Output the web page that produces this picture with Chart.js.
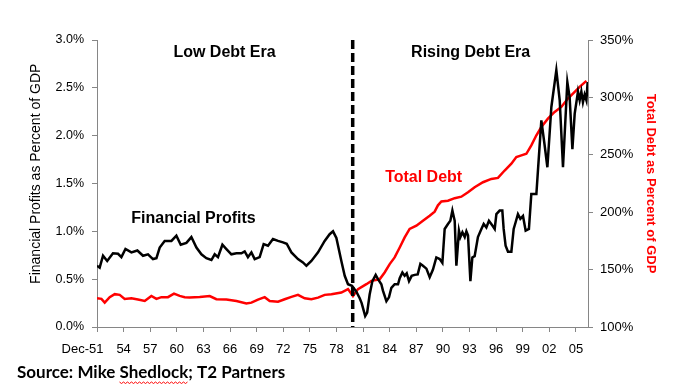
<!DOCTYPE html>
<html>
<head>
<meta charset="utf-8">
<script src="https://cdn.jsdelivr.net/npm/chart.js@4.4.0/dist/chart.umd.min.js"></script>
<style>
  html, body { margin: 0; padding: 0; background: #fff; }
  #wrap { position: relative; width: 676px; height: 391px; }
</style>
</head>
<body>
<div id="wrap"><canvas id="debtChart"></canvas></div>
<script>
// data //
const profitYears = [
  1951.92, 1952.22, 1952.60, 1953.07, 1953.72, 1954.29, 1954.67, 1955.13, 1955.80, 1956.47,
  1957.11, 1957.67, 1958.23, 1958.62, 1958.99, 1959.55, 1960.31, 1960.87, 1961.36, 1962.00,
  1962.56, 1963.13, 1963.69, 1964.25, 1964.82, 1965.19, 1965.56, 1966.06, 1966.51, 1967.07,
  1967.64, 1968.20, 1968.57, 1968.94, 1969.33, 1969.70, 1970.26, 1970.71, 1971.20, 1971.76,
  1972.33, 1972.89, 1973.31, 1973.84, 1974.58, 1975.14, 1975.53, 1976.09, 1976.84, 1977.59,
  1978.15, 1978.53, 1978.91, 1979.47, 1979.85, 1980.22, 1980.67, 1981.16, 1981.54, 1981.76,
  1982.16, 1982.38, 1982.66, 1982.97, 1983.34, 1983.60, 1983.98, 1984.16, 1984.55, 1984.84,
  1985.11, 1985.48, 1985.86, 1986.05, 1986.35, 1986.61, 1986.84, 1987.10, 1987.40, 1987.74,
  1988.08, 1988.38, 1988.67, 1989.06, 1989.43, 1989.80, 1990.18, 1990.56, 1990.86, 1991.12,
  1991.49, 1991.76, 1991.99, 1992.25, 1992.44, 1992.73, 1992.89, 1993.12, 1993.38, 1993.57,
  1993.75, 1994.02, 1994.24, 1994.50, 1994.87, 1995.26, 1995.52, 1995.82, 1996.11, 1996.50,
  1996.76, 1996.95, 1997.32, 1997.62, 1997.77, 1997.99, 1998.26, 1998.64, 1998.90, 1999.12,
  1999.38, 1999.65, 1999.95, 2000.25, 2000.62, 2000.89, 2001.46, 2001.64, 2002.02, 2002.39,
  2002.70, 2003.15, 2003.71, 2004.09, 2004.46, 2004.95, 2005.21, 2005.52, 2005.78, 2006.15,
  2006.34, 2006.53, 2006.71, 2006.90, 2007.10, 2007.24
];
const profitValues = [
  0.64, 0.62, 0.745, 0.69, 0.77, 0.765, 0.73, 0.815, 0.78, 0.80,
  0.745, 0.76, 0.71, 0.72, 0.83, 0.90, 0.90, 0.955, 0.86, 0.88,
  0.94, 0.83, 0.76, 0.72, 0.70, 0.76, 0.73, 0.86, 0.815, 0.76,
  0.77, 0.77, 0.79, 0.73, 0.78, 0.71, 0.73, 0.867, 0.85, 0.92,
  0.90, 0.885, 0.87, 0.78, 0.71, 0.675, 0.64, 0.69, 0.78, 0.90,
  0.97, 1.00, 0.93, 0.69, 0.535, 0.447, 0.43, 0.37, 0.30, 0.25,
  0.115, 0.15, 0.34, 0.48, 0.545, 0.50, 0.447, 0.38, 0.27, 0.31,
  0.41, 0.447, 0.447, 0.51, 0.57, 0.535, 0.56, 0.48, 0.535, 0.545,
  0.55, 0.66, 0.64, 0.61, 0.52, 0.60, 0.727, 0.71, 0.67, 1.025,
  1.077, 1.11, 1.217, 1.11, 0.64, 1.007, 0.94, 0.99, 0.94, 1.00,
  0.96, 0.48, 0.727, 0.74, 0.94, 1.025, 1.077, 1.04, 1.11, 1.06,
  1.025, 1.18, 1.217, 1.217, 1.025, 0.85, 0.787, 0.787, 1.025, 1.095,
  1.18, 1.13, 1.16, 1.007, 1.025, 1.39, 1.39, 1.64, 2.16, 1.90,
  1.67, 2.30, 2.685, 2.37, 1.67, 2.56, 2.40, 1.86, 2.23, 2.46,
  2.37, 2.46, 2.35, 2.43, 2.37, 2.56
];
const debtYears = [
  1951.92, 1952.42, 1952.79, 1953.35, 1953.92, 1954.48, 1955.04, 1955.80, 1956.54, 1957.30,
  1958.05, 1958.62, 1959.18, 1959.92, 1960.60, 1961.24, 1961.81, 1962.37, 1963.50, 1964.63,
  1965.38, 1966.51, 1967.64, 1968.76, 1969.33, 1970.07, 1970.83, 1971.39, 1972.33, 1973.08,
  1973.84, 1974.58, 1975.34, 1976.09, 1976.84, 1977.59, 1978.35, 1979.47, 1980.22, 1980.78,
  1981.35, 1982.29, 1982.86, 1983.79, 1984.35, 1984.92, 1985.48, 1986.05, 1986.61, 1987.17,
  1987.93, 1988.67, 1989.43, 1989.99, 1990.36, 1990.75, 1991.49, 1992.25, 1993.00, 1993.75,
  1994.50, 1995.44, 1996.38, 1997.13, 1997.88, 1998.64, 1999.20, 1999.77, 2000.33, 2000.89,
  2001.46, 2002.02, 2002.76, 2003.52, 2004.27, 2005.02, 2005.78, 2006.34, 2007.10
];
const debtValues = [
  125, 124.5, 121.2, 126, 128.6, 128, 124.5, 125, 123.9, 122.7,
  127.1, 124.5, 126, 126, 129.1, 127.1, 126, 125.6, 126.2, 127,
  124.2, 123.9, 122.7, 120.4, 121.2, 123.9, 126, 122.7, 122.1, 124.2,
  126.2, 128, 125, 124.2, 125.6, 128, 128.6, 130, 133, 127,
  133, 137.3, 140.2, 141.6, 147.5, 154.8, 160.6, 169.3, 178, 185.4,
  188.3, 192.6, 197, 200.5, 206, 209.3, 210, 212.2, 213.5, 217.4,
  221.8, 226.1, 229, 229.9, 236.3, 242.2, 248, 249.5, 250.9, 258.2,
  267, 274.2, 281.5, 287.3, 291.7, 299, 304.8, 309.2, 314.4
];
const tickYears = [
  1951.92, 1954.92, 1957.92, 1960.92, 1963.92, 1966.92, 1969.92, 1972.92, 1975.92, 1978.92,
  1981.92, 1984.92, 1987.92, 1990.92, 1993.92, 1996.92, 1999.92, 2002.92, 2005.92
];
const tickLabels = ['Dec-51', '54', '57', '60', '63', '66', '69', '72', '75', '78',
  '81', '84', '87', '90', '93', '96', '99', '02', '05'];
const eraSplit = 1980.75;

const AXIS_GRAY = '#868686';
const ARIAL = "'Liberation Sans', Arial, sans-serif";

// dashed divider, notes and source //
const notesPlugin = {
  id: 'notes',
  afterDatasetsDraw(chart) {
    const { ctx, chartArea, scales } = chart;
    const x = scales.x, yL = scales.y, yR = scales.y1;

    ctx.save();
    const xs = x.getPixelForValue(eraSplit);
    ctx.strokeStyle = '#000';
    ctx.lineWidth = 3.5;
    ctx.setLineDash([9, 4]);
    ctx.beginPath();
    ctx.moveTo(xs, chartArea.top);
    ctx.lineTo(xs, chartArea.bottom);
    ctx.stroke();
    ctx.setLineDash([]);

    ctx.textAlign = 'center';
    ctx.textBaseline = 'middle';
    ctx.font = 'bold 16px ' + ARIAL;
    ctx.fillStyle = '#000';
    ctx.fillText('Low Debt Era', x.getPixelForValue(1966.3), yL.getPixelForValue(2.87));
    ctx.fillText('Rising Debt Era', x.getPixelForValue(1994.05), yL.getPixelForValue(2.87));
    ctx.fillText('Financial Profits', x.getPixelForValue(1962.8), yL.getPixelForValue(1.13));
    ctx.fillStyle = '#ff0000';
    ctx.fillText('Total Debt', x.getPixelForValue(1988.75), yR.getPixelForValue(230.5));

    // source line
    const src1 = 'Source: Mike ', src2 = 'Shedlock', src3 = '; T2 Partners';
    ctx.font = "bold 17px Lato, 'Open Sans', sans-serif";
    ctx.fillStyle = '#000';
    ctx.textAlign = 'left';
    const sx = 17, sy = 373;
    ctx.fillText(src1 + src2 + src3, sx, sy);
    const w1 = ctx.measureText(src1).width;
    const w2 = ctx.measureText(src2).width;
    // spell-check squiggle
    ctx.strokeStyle = '#ff0000';
    ctx.lineWidth = 1;
    ctx.beginPath();
    for (let px = 0; px <= w2; px += 2) {
      const py = sy + 9 + ((px / 2) % 2 === 0 ? 0 : 1.5);
      if (px === 0) ctx.moveTo(sx + w1 + px, py); else ctx.lineTo(sx + w1 + px, py);
    }
    ctx.stroke();
    ctx.restore();
  }
};

const ctx = document.getElementById('debtChart');
new Chart(ctx, {
  type: 'line',
  data: {
    datasets: [{
      label: 'Financial Profits',
      data: profitYears.map((yr, i) => ({ x: yr, y: profitValues[i] })),
      borderColor: '#000000',
      borderWidth: 2.5,
      pointRadius: 0,
      tension: 0,
      yAxisID: 'y'
    }, {
      label: 'Total Debt',
      data: debtYears.map((yr, i) => ({ x: yr, y: debtValues[i] })),
      borderColor: '#ff0000',
      borderWidth: 2.5,
      pointRadius: 0,
      tension: 0,
      yAxisID: 'y1'
    }]
  },
  options: {
    responsive: true,
    maintainAspectRatio: false,
    animation: false,
    layout: { padding: { top: 40, left: 0, right: 0, bottom: 0 } },
    plugins: {
      legend: { display: false },
      tooltip: { enabled: false }
    },
    scales: {
      x: {
        type: 'linear',
        min: 1951.92,
        max: 2007.28,
        afterBuildTicks: (s) => { s.ticks = tickYears.map(v => ({ value: v })); },
        afterFit: (s) => { s.height = 64; },
        ticks: {
          autoSkip: false,
          maxRotation: 0,
          padding: 10,
          color: '#000',
          font: { family: ARIAL, size: 13 },
          // first label sits left of its tick, as in the original
          callback: (v, i) => (i === 0 ? tickLabels[i] + '        ' : tickLabels[i])
        },
        grid: { drawOnChartArea: false, tickLength: 5, color: AXIS_GRAY },
        border: { color: AXIS_GRAY, width: 1 }
      },
      y: {
        position: 'left',
        min: 0,
        max: 3,
        afterFit: (s) => { s.width = 97; },
        ticks: {
          stepSize: 0.5,
          padding: 8,
          color: '#000',
          font: { family: ARIAL, size: 12.5 },
          callback: v => v.toFixed(1) + '%'
        },
        title: {
          display: true,
          text: '     Financial Profits as Percent of GDP',
          color: '#000',
          font: { family: ARIAL, size: 14 },
          padding: { top: 28, bottom: 0 }
        },
        grid: { drawOnChartArea: false, tickLength: 5, color: AXIS_GRAY },
        border: { color: AXIS_GRAY, width: 1 }
      },
      y1: {
        position: 'right',
        min: 100,
        max: 350,
        afterFit: (s) => { s.width = 88; },
        ticks: {
          stepSize: 50,
          padding: 7,
          color: '#000',
          font: { family: ARIAL, size: 13 },
          callback: v => v + '%'
        },
        title: {
          display: true,
          text: 'Total Debt as Percent of GDP',
          color: '#ff0000',
          font: { family: ARIAL, size: 13, weight: 'bold' },
          padding: { top: 18, bottom: 0 }
        },
        grid: { drawOnChartArea: false, tickLength: 5, color: AXIS_GRAY },
        border: { color: AXIS_GRAY, width: 1 }
      }
    }
  },
  plugins: [notesPlugin]
});
</script>
</body>
</html>
